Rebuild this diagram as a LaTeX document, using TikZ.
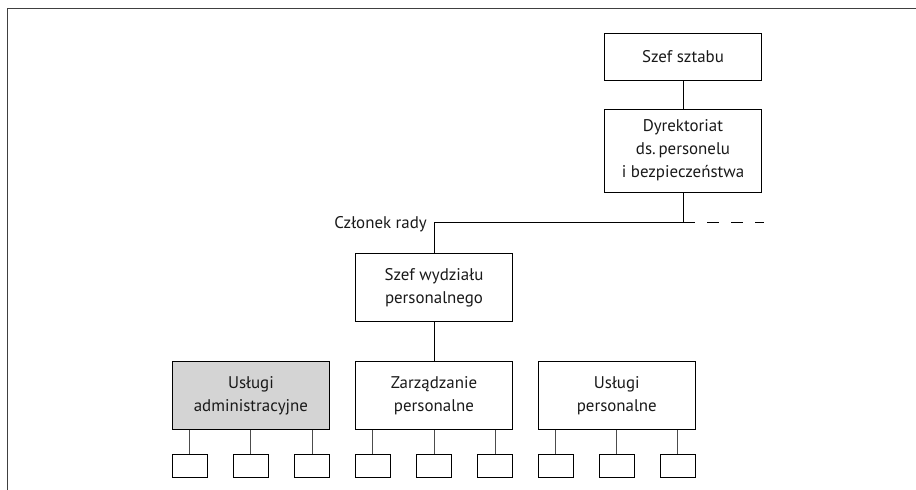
\documentclass[tikz,border=0pt]{standalone}
\usepackage{fontspec}
\setmainfont{PT Sans}
\begin{document}
\begin{tikzpicture}[x=1pt,y=-1pt,
  every node/.style={text=black!90},
  orgbox/.style={draw=black, line width=0.9pt, inner sep=0pt, align=center,
    minimum width=156.6pt, font=\fontsize{16.9}{23}\selectfont},
  unitbox/.style={draw=black, line width=0.9pt, inner sep=0pt,
    minimum width=35pt, minimum height=23.3pt},
  link/.style={draw=black, line width=0.9pt},
  sublink/.style={draw=black!70, line width=1pt},
  frame/.style={draw=black!75, line width=1.6pt}]
\useasboundingbox (0,0) rectangle (916,490);

% page frame (top and left edges)
\draw[frame] (7.5,490) -- (7.5,8.5) -- (916,8.5);

% top of the chain
\node[orgbox, minimum height=46.7pt] (chief) at (683,56.7) {Szef sztabu};
\node[orgbox, minimum height=83.3pt] (dir) at (683,150.7)
  {Dyrektoriat\\ds.\,personelu\\i bezpieczeństwa};
\draw[link] (chief) -- (dir);

% board level line
\coordinate (junc) at (683,222.3);
\coordinate (corner) at (434,222.3);
\coordinate (dashend) at (763.5,222.3);
\draw[link] (dir) -- (junc) -- (corner);
\draw[link, dash pattern=on 12pt off 12pt] (junc) -- (dashend);
\node[anchor=base east, inner sep=0pt, font=\fontsize{16.9}{23}\selectfont]
  (board) at (427,228) {Członek rady};

% head of personnel
\node[orgbox, minimum height=68pt] (head) at (434,287.3)
  {Szef wydziału\\personalnego};
\draw[link] (corner) -- (head);

% departments
\node[orgbox, minimum height=67.6pt, fill=black!17] (adm) at (250.9,395.5)
  {Usługi\\administracyjne};
\node[orgbox, minimum height=67.6pt] (mgmt) at (434,395.5)
  {Zarządzanie\\personalne};
\node[orgbox, minimum height=67.6pt] (serv) at (616.8,395.5)
  {Usługi\\personalne};
\draw[link] (head) -- (mgmt);

% sub-units under each department
\foreach \d in {adm,mgmt,serv}{
  \foreach \i/\dx in {1/-61.1,2/0,3/61.1}{
    \node[unitbox] (\d-\i) at ([xshift=\dx pt] \d.center |- 0,465.7) {};
    \draw[sublink] ([xshift=\dx pt] \d.south) -- (\d-\i.north);
  }
}
\end{tikzpicture}
\end{document}
